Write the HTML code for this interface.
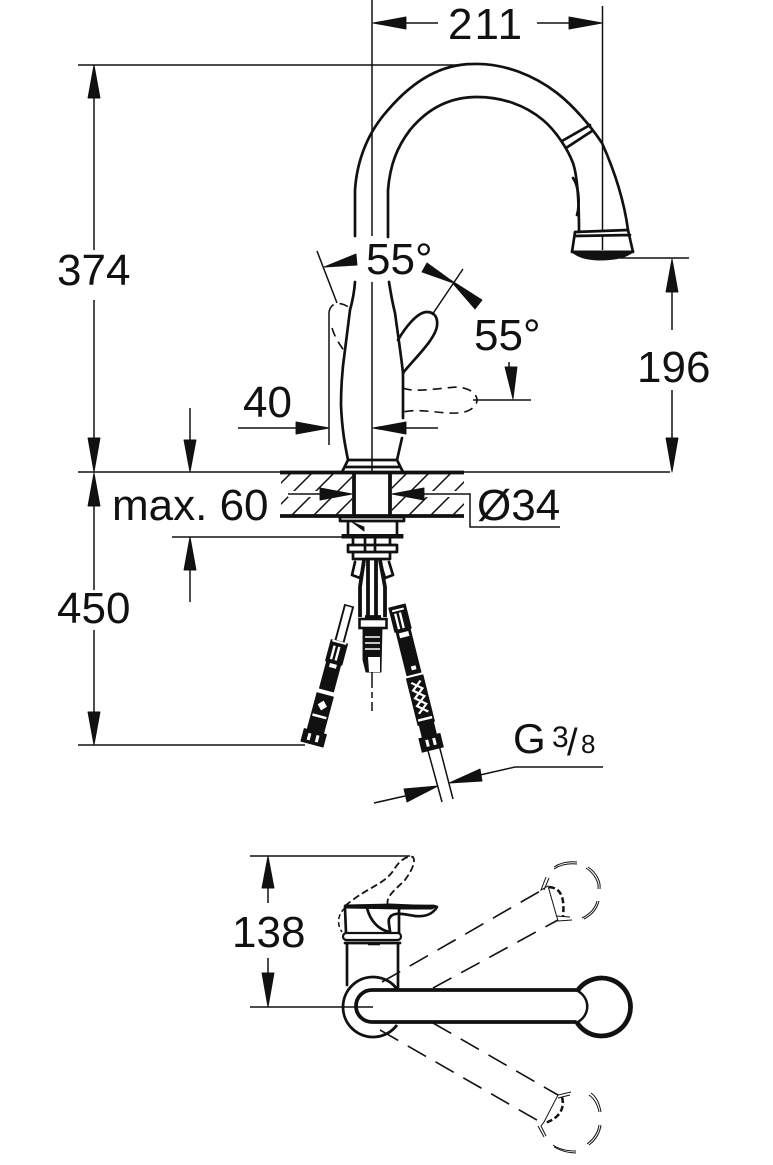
<!DOCTYPE html>
<html><head><meta charset="utf-8"><style>
html,body{margin:0;padding:0;background:#fff;width:773px;height:1165px;overflow:hidden}
svg{display:block}
text{font-family:"Liberation Sans",Arial,sans-serif;font-size:44px;fill:#111}
.t{fill:none;stroke:#111;stroke-width:1.5}
.m{fill:none;stroke:#111;stroke-width:2.7;stroke-linecap:round;stroke-linejoin:round}
.b{fill:none;stroke:#111;stroke-width:3.8;stroke-linejoin:round}
.d{fill:none;stroke:#111;stroke-width:1.6;stroke-dasharray:21 11}
.d2{fill:none;stroke:#111;stroke-width:1.6;stroke-dasharray:9 6}
.f{fill:#111;stroke:#111;stroke-width:.9;stroke-linejoin:round}
</style></head><body>
<svg width="773" height="1165" viewBox="0 0 773 1165" xmlns="http://www.w3.org/2000/svg">
<defs><clipPath id="h"><path d="M281 473H352V515H281ZM392 473H464V515H392Z"/></clipPath></defs>
<!-- dimension lines -->
<path class="t" d="M372 0V236M372 282V472M602.500 6V232M602.500 236V250M78 65H462M406 23H438M537 23H569M620 258H689M672 292V330M672 390V438M78 472H670M94 98V250M94 300V438M94 506V590M94 630V712M78 745H305M190 408V440M190 570V602M172 537H342"/>
<path class="f" d="M373 23L406 17V29ZM602 23L569 17V29ZM94 65L88 98H100ZM94 472L88 438H100ZM94 473L88 506H100ZM94 745L88 712H100ZM672 259L666 292H678ZM672 472L666 438H678ZM190 472L184 440H196ZM190 537L184 570H196Z"/>
<!-- spout -->
<path class="m" d="M355 236V190C357 160 368 132 388 110C412 82 440 64 473 64C505 63 535 76 557 93C575 107 592 128 602 143C615 172 624 200 628 230"/>
<path class="m" d="M388 237V190C390 165 397 147 410 130C428 108 450 97 477 97C502 97 525 105 543 120C557 132 568 150 573 163C577 175 579 200 579 232"/>
<path class="m" d="M562 141L590 125M566 148L592 131M575 232L628 230L633 252M575 236L630 235M575 232L572 252"/>
<path class="f" d="M571 251Q600 251 634 251Q625 260 600 260Q580 260 571 251Z"/>
<path class="m" d="M573 178C579 186 580 205 577 215"/>
<!-- 55 left -->
<path class="t" d="M317 251L337 303M329 312V445"/>
<path class="f" d="M324 267L356 254L357 265Z"/>
<path class="d2" d="M329 312C331 302 340 301 350 308M332 328C335 338 340 345 345 352"/>
<!-- 55 right -->
<path class="f" d="M427 263L422 272L456 284ZM482 300L475 309L449 279Z"/>
<path class="t" d="M463 269L432 315M473 400H531M509 362V372"/>
<path class="f" d="M505 367L517 367L513 399Z"/>
<path class="d2" d="M403 388C415 393 440 388 457 387C470 388 477 394 477 400C477 407 468 413 457 413C440 414 420 408 403 412"/>
<!-- 40 -->
<path class="t" d="M238 428H296M406 428H438"/>
<path class="f" d="M296 422L329 428L296 434ZM373 428L406 422V434Z"/>
<!-- body -->
<path class="m" d="M355 282C354 295 352 303 350 310L345 350C342 370 341 385 341 405C342 430 345 445 348 460"/>
<path class="m" d="M389 282C391 295 393 305 395 313C398 335 401 355 403 373V418M402 438L397 460"/>
<path class="m" d="M398 340C405 328 417 312 427 312C435 312 438 318 437 326C435 340 413 360 403 373"/>
<path class="m" d="M348 460H397L403 472M348 460L342 472M345 467H400"/>
<!-- deck -->
<g clip-path="url(#h)" class="t"><path d="M248 516L292 472M269 516L313 472M291 516L335 472M313 516L357 472M335 516L379 472M364 516L408 472M386 516L430 472M408 516L452 472M430 516L474 472M452 516L496 472"/></g>
<path d="M288 494H352M392 494H470" stroke="#fff" stroke-width="6" fill="none"/>
<path class="b" d="M280 472.500H464M280 516H464"/>
<path class="b" d="M354 472V516M390 472V516"/>
<path class="t" d="M288 494H320M424 494H470V527H560"/>
<path class="f" d="M352 494L320 488V500ZM392 494L424 488V500Z"/>
<!-- mount -->
<path class="m" d="M340 517H404V521H340ZM348 521V536M397 521V536M353 538V545M390 538V545M365 538V545M375 538V545"/>
<path class="f" d="M352 522L364 527V531ZM342 534.500H403V538H342Z"/>
<path class="m" d="M348 545H397V552H348ZM353 552V559H390V552M365 545V552M375 545V552"/>
<path class="m" d="M355 562L352 575L360 578L364 565M389 562L393 575L385 578L381 565"/>
<path class="b" d="M364 560L360 587V617M380 560L385 587V617M368 560V617M376 560V617M365 617H381"/>
<rect x="359.500" y="619" width="27" height="9" fill="#fff" stroke="#111" stroke-width="2.600"/>
<path class="f" d="M363 628H382L381 672H366L363 660Z"/>
<path d="M365 637H380M365 643H380M365 649H380" stroke="#fff" stroke-width="1.500"/>
<path d="M368 657H380V672H369Z" fill="#fff"/>
<path class="t" d="M372 672V688M372 692V698M372 702V711"/>
<!-- left hose -->
<g transform="translate(349 606) rotate(15) scale(1.2 1)">
<rect x="-3.500" y="0" width="7" height="37" fill="#fff" stroke="#111" stroke-width="1.600"/>
<rect x="-7" y="37" width="14" height="22" class="f"/>
<path d="M-3 42V56M1 42V56M-6 37.500H6" stroke="#fff" stroke-width="2" fill="none"/>
<rect x="-6" y="59" width="12" height="28" class="f"/>
<rect x="-3" y="60" width="6" height="4" fill="#fff" stroke="none"/>
<rect x="-7" y="92" width="14" height="41" class="f"/>
<path d="M-3 97L3 103L-3 109L3 103ZM-4 103L0 98L4 103L0 108Z" fill="#fff"/>
<rect x="-6" y="113" width="12" height="2.500" fill="#fff"/>
<rect x="-9.500" y="130" width="19" height="13" class="f"/>
<path d="M-4 133V140M3 133V140" stroke="#fff" stroke-width="2.500"/>
</g>
<!-- right hose -->
<g transform="translate(397 606) rotate(-14) scale(1.2 1)">
<rect x="-7" y="0" width="14" height="25" class="f"/>
<path d="M-3 7V23M1 7V23M-5 4H5" stroke="#fff" stroke-width="2" fill="none"/>
<rect x="-6" y="25" width="12" height="45" class="f"/>
<rect x="-4" y="27" width="8" height="5" fill="#fff" stroke="none"/>
<rect x="-1" y="62" width="4" height="4" fill="#fff" stroke="none"/>
<rect x="-7" y="73" width="14" height="48" class="f"/>
<path d="M-4 78L4 86L-4 94L4 102L-4 110M4 78L-4 86L4 94L-4 102L4 110" stroke="#fff" stroke-width="2" fill="none"/>
<rect x="-6" y="115" width="12" height="3" fill="#fff" stroke="none"/>
<rect x="-6" y="118" width="12" height="16" class="f"/>
<rect x="-9" y="134" width="18" height="14" class="f"/>
<path d="M-3 137V144M3 137V144" stroke="#fff" stroke-width="2.500"/>
</g>
<!-- tube + G -->
<path class="t" d="M427 747L442 802M439 745L453 799M374 803L405 796M480 775L515 767H603"/>
<path class="f" d="M438 786L404 789L407 802ZM449 783L480 769L482 781Z"/>
<!-- top view -->
<path class="t" d="M250 856H410M268 888V903M268 958V973M250 1007H373"/>
<path class="f" d="M268 856L262 888H274ZM268 1007L262 973H274Z"/>
<path d="M345 906C370 885 385 885 395 868C400 860 408 855 413 857C416 862 412 870 405 880C395 890 385 897 388 905" fill="none" stroke="#111" stroke-width="1.800" stroke-dasharray="7 3.500"/>
<path d="M345 908C337 915 337 925 342 932" fill="none" stroke="#111" stroke-width="1.500" stroke-dasharray="5 3"/>
<path class="m" d="M345 906H434L437 907C433 914 425 917 415 916C403 914 392 911 389 919C388 923 390 928 390 932"/>
<path class="f" d="M345 905L390 904L437 906L432 909L400 909L345 908Z"/>
<path class="m" d="M367 908C370 920 378 930 390 932M345 908L346 933M399 908V933"/>
<rect x="343" y="933" width="58" height="7" rx="3.500" fill="#fff" stroke="#111" stroke-width="2.200"/>
<path class="m" d="M345 943H400M347 943V985M398 943V989"/>
<path class="b" d="M368 944.500H380" style="stroke-width:1.600"/>
<!-- lever ghost lines -->
<path class="d" d="M382 982L542 890M433 988L558 920M433 1023L558 1095M380 1030L542 1123"/>
<path d="M397 989A30 30 0 1 0 397 1025" fill="none" stroke="#111" stroke-width="2.800"/>
<path class="b" d="M577 990H372A16 16 0 0 0 372 1022H577"/>
<circle cx="601" cy="1007" r="28" fill="#fff" stroke="none"/>
<path d="M577 991.500A29 29 0 1 1 577 1022.500" fill="none" stroke="#111" stroke-width="4.800"/>
<path d="M576 990C591 997 591 1016 576 1023" fill="none" stroke="#111" stroke-width="2.500"/>
<!-- ghost balls -->
<g fill="none" stroke="#111" stroke-width="1">
<path d="M554 867C560 863 568 861 577 862M554 869C560 865 568 863 577 864"/>
<path d="M588 867C597 873 601 882 600 889M586 868C595 874 599 883 598 889"/>
<path d="M599 901C597 909 592 915 584 919M597 901C595 909 590 914 582 918"/>
<path d="M546 877L541 890L548 886L558 921L572 920M549 878L544 890M556 916L570 917"/>
<path d="M591 1093C598 1098 600 1106 601 1112M589 1095C596 1100 598 1107 599 1112"/>
<path d="M601 1125C600 1132 597 1139 589 1145M599 1125C598 1132 595 1138 587 1144"/>
<path d="M553 1145C560 1150 568 1151 576 1151M554 1147C561 1151 568 1153 576 1153"/>
<path d="M571 1092L558 1095L544 1122L541 1126L546 1136M570 1095L558 1098M538 1126L544 1137"/>
</g>
<path d="M549 887C560 888 565 895 563 917M562 1097C565 1108 560 1118 545 1123" fill="none" stroke="#111" stroke-width="2.500" stroke-dasharray="6 3"/>
<!-- text -->
<text x="448" y="39" style="letter-spacing:2px">211</text>
<text x="57" y="285">374</text>
<text x="637" y="382">196</text>
<text x="366" y="274">55°</text>
<text x="474" y="350">55°</text>
<text x="243" y="417">40</text>
<text x="112" y="520">max. 60</text>
<text x="477" y="520">Ø34</text>
<text x="57" y="623">450</text>
<text x="232" y="947">138</text>
<text x="513" y="753" style="font-size:42px">G</text>
<text x="552" y="747" style="font-size:30px">3</text>
<text x="567" y="755" style="font-size:38px">/</text>
<text x="581" y="753" style="font-size:26px">8</text>
</svg>
</body></html>
